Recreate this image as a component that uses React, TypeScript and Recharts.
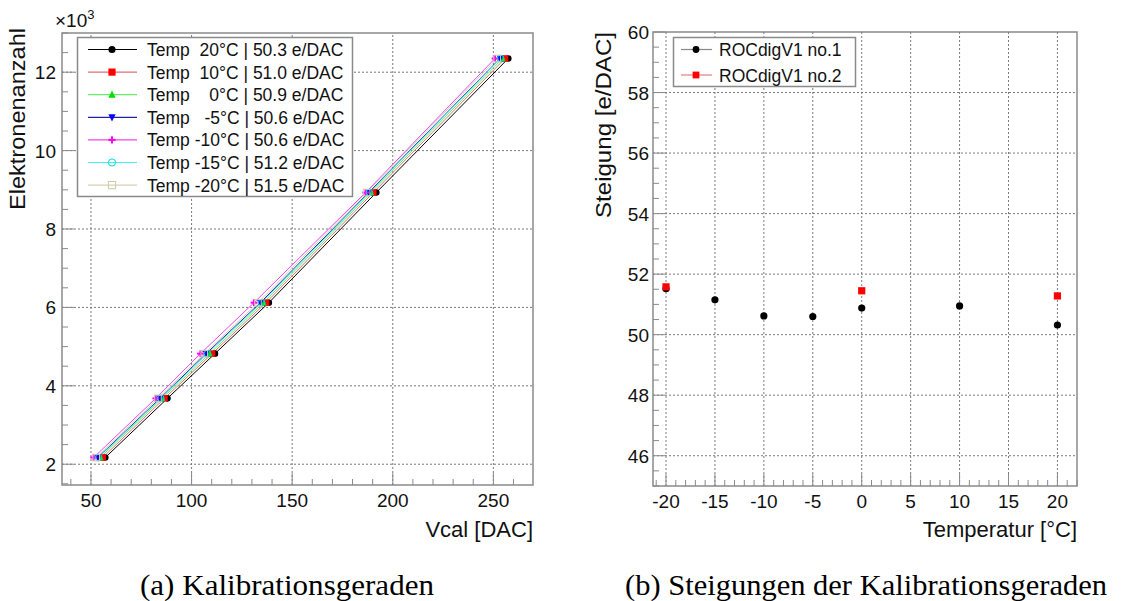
import React from 'react';
import {
  LineChart,
  Line,
  XAxis,
  YAxis,
  ReferenceLine,
  ReferenceArea,
  ScatterChart,
  Scatter,
} from 'recharts';

const SANS = "'Liberation Sans', Arial, sans-serif";
const SERIF = "'Liberation Serif', 'Times New Roman', serif";
const FRAME = '#8a8a8a';
const GRID = '#7a7a7a';

// (a) calibration lines: electrons vs Vcal per temperature
const electrons = [2170, 3680, 4820, 6120, 8930, 12350];
const vcal20 = [57.1, 88.0, 111.6, 138.4, 191.8, 257.4];
const vcal10 = [55.8, 86.5, 110.2, 137.0, 190.3, 255.8];
const vcal0 = [54.6, 85.4, 109.0, 135.8, 189.2, 254.6];
const vcalM5 = [53.4, 84.3, 107.2, 134.2, 188.0, 253.3];
const vcalM10 = [51.3, 82.2, 104.4, 131.0, 186.5, 250.8];
const vcalM15 = [53.8, 84.7, 107.8, 134.8, 188.4, 253.6];
const vcalM20 = [52.6, 83.3, 106.3, 133.0, 187.0, 251.9];

const calibLabels = [
  'Temp  20°C | 50.3 e/DAC',
  'Temp  10°C | 51.0 e/DAC',
  'Temp    0°C | 50.9 e/DAC',
  'Temp   -5°C | 50.6 e/DAC',
  'Temp -10°C | 50.6 e/DAC',
  'Temp -15°C | 51.2 e/DAC',
  'Temp -20°C | 51.5 e/DAC',
];
const calibLineColors = ['#000000', '#e07070', '#66ee66', '#2020a0', '#ee44ee', '#44eeee', '#d4d2b4'];
const calibMarkColors = ['#000000', '#ff0000', '#00dd00', '#0000ff', '#ff00ff', '#00dddd', '#ccc8a8'];
const calibShapes = ['circle', 'square', 'triangle', 'triangleDown', 'plus', 'openCircle', 'openSquare'];
const calibVcal = [vcal20, vcal10, vcal0, vcalM5, vcalM10, vcalM15, vcalM20];

const vcalMajor = [50, 100, 150, 200, 250];
const elecMajor = [2000, 4000, 6000, 8000, 10000, 12000];

// (b) slopes vs temperature
const temps1 = [-20, -15, -10, -5, 0, 10, 20];
const slopes1 = [51.52, 51.15, 50.62, 50.6, 50.88, 50.95, 50.32];
const temps2 = [-20, 0, 20];
const slopes2 = [51.58, 51.45, 51.28];
const rocLabels = ['ROCdigV1 no.1', 'ROCdigV1 no.2'];

const tempMajor = [-20, -15, -10, -5, 0, 5, 10, 15, 20];
const slopeMajor = [46, 48, 50, 52, 54, 56, 58, 60];

const steps = (from: number, to: number, step: number) => {
  const out: number[] = [];
  for (let v = from; v <= to + 1e-9; v += step) out.push(Math.round(v * 100) / 100);
  return out;
};

const vcalTicks = steps(40, 260, 10);
const elecTicks = steps(1500, 13000, 500);
const tempTicks = steps(-21, 22, 1);
const slopeTicks = steps(45, 60, 0.5);

function Marker({ shape, cx, cy, color, r = 3.3 }: any) {
  if (cx == null || cy == null) return null;
  switch (shape) {
    case 'circle':
      return <circle cx={cx} cy={cy} r={r} fill={color} />;
    case 'square':
      return <rect x={cx - r} y={cy - r} width={2 * r} height={2 * r} fill={color} />;
    case 'triangle':
      return <polygon points={`${cx},${cy - r - 0.5} ${cx - r},${cy + r - 0.5} ${cx + r},${cy + r - 0.5}`} fill={color} />;
    case 'triangleDown':
      return <polygon points={`${cx},${cy + r + 0.5} ${cx - r},${cy - r + 0.5} ${cx + r},${cy - r + 0.5}`} fill={color} />;
    case 'plus':
      return (
        <g stroke={color} strokeWidth={2}>
          <line x1={cx - r} x2={cx + r} y1={cy} y2={cy} />
          <line x1={cx} x2={cx} y1={cy - r} y2={cy + r} />
        </g>
      );
    case 'openCircle':
      return <circle cx={cx} cy={cy} r={r} fill="none" stroke={color} strokeWidth={1} />;
    case 'openSquare':
      return <rect x={cx - r} y={cy - r} width={2 * r} height={2 * r} fill="none" stroke={color} strokeWidth={1} />;
    default:
      return null;
  }
}

function BottomTick({ x, y, payload, majors }: any) {
  const v = payload.value;
  const major = majors.includes(v);
  return (
    <g>
      <line x1={x} x2={x} y1={y} y2={y - (major ? 12 : 6)} stroke={FRAME} />
      {major && (
        <text x={x} y={y + 22} textAnchor="middle" fontSize={19} fontFamily={SANS} fill="#111">
          {v}
        </text>
      )}
    </g>
  );
}

function LeftTick({ x, y, payload, majors, scale = 1, gap = 6 }: any) {
  const v = payload.value;
  const major = majors.includes(v);
  return (
    <g>
      <line x1={x} x2={x + (major ? 12 : 6)} y1={y} y2={y} stroke={FRAME} />
      {major && (
        <text x={x - gap} y={y + 7} textAnchor="end" fontSize={19} fontFamily={SANS} fill="#111">
          {v / scale}
        </text>
      )}
    </g>
  );
}

function CalibChart() {
  const series = calibVcal.map((vs, i) => ({
    name: calibLabels[i],
    data: vs.map((v, j) => ({ v, e: electrons[j] })),
  }));
  return (
    <LineChart width={560} height={530} margin={{ top: 33, right: 27, bottom: 0, left: 0 }}>
      <XAxis
        dataKey="v"
        type="number"
        domain={[35.6, 269.7]}
        allowDataOverflow
        ticks={vcalTicks}
        interval={0}
        tickSize={0}
        tickMargin={0}
        axisLine={false}
        tickLine={false}
        height={45}
        tick={(p: any) => <BottomTick {...p} majors={vcalMajor} />}
      />
      <YAxis
        dataKey="e"
        type="number"
        domain={[1470, 13000]}
        allowDataOverflow
        ticks={elecTicks}
        interval={0}
        tickSize={0}
        tickMargin={0}
        axisLine={false}
        tickLine={false}
        width={62}
        tick={(p: any) => <LeftTick {...p} majors={elecMajor} scale={1000} gap={6} />}
      />
      {vcalMajor.map((v) => (
        <ReferenceLine key={`gx${v}`} x={v} stroke={GRID} strokeDasharray="2 2" />
      ))}
      {elecMajor.map((v) => (
        <ReferenceLine key={`gy${v}`} y={v} stroke={GRID} strokeDasharray="2 2" />
      ))}
      <ReferenceArea x1={35.6} x2={269.7} y1={1470} y2={13000} fill="none" fillOpacity={0} stroke={FRAME} strokeWidth={1.5} />
      {series.map((s, i) => (
        <Line
          key={s.name}
          name={s.name}
          data={s.data}
          dataKey="e"
          type="linear"
          stroke={calibLineColors[i]}
          strokeWidth={1}
          isAnimationActive={false}
          dot={(p: any) => (
            <Marker key={`d${i}-${p.index}`} shape={calibShapes[i]} cx={p.cx} cy={p.cy} color={calibMarkColors[i]} />
          )}
          activeDot={false}
        />
      ))}
    </LineChart>
  );
}

function SlopeChart() {
  const d1 = temps1.map((t, i) => ({ t, s: slopes1[i] }));
  const d2 = temps2.map((t, i) => ({ t, s: slopes2[i] }));
  return (
    <ScatterChart width={564} height={530} margin={{ top: 32, right: 47, bottom: 0, left: 0 }}>
      <XAxis
        dataKey="t"
        type="number"
        domain={[-21.33, 22]}
        allowDataOverflow
        ticks={tempTicks}
        interval={0}
        tickSize={0}
        tickMargin={0}
        axisLine={false}
        tickLine={false}
        height={44}
        tick={(p: any) => <BottomTick {...p} majors={tempMajor} />}
      />
      <YAxis
        dataKey="s"
        type="number"
        domain={[45, 60]}
        allowDataOverflow
        ticks={slopeTicks}
        interval={0}
        tickSize={0}
        tickMargin={0}
        axisLine={false}
        tickLine={false}
        width={93}
        tick={(p: any) => <LeftTick {...p} majors={slopeMajor} gap={4} />}
      />
      {tempMajor.map((v) => (
        <ReferenceLine key={`gx${v}`} x={v} stroke={GRID} strokeDasharray="2 2" />
      ))}
      {slopeMajor.filter((v) => v < 60).map((v) => (
        <ReferenceLine key={`gy${v}`} y={v} stroke={GRID} strokeDasharray="2 2" />
      ))}
      <ReferenceArea x1={-21.33} x2={22} y1={45} y2={60} fill="none" fillOpacity={0} stroke={FRAME} strokeWidth={1.5} />
      <Scatter
        name={rocLabels[0]}
        data={d1}
        isAnimationActive={false}
        shape={(p: any) => <Marker shape="circle" cx={p.cx} cy={p.cy} color="#000" r={3.6} />}
      />
      <Scatter
        name={rocLabels[1]}
        data={d2}
        isAnimationActive={false}
        shape={(p: any) => <Marker shape="square" cx={p.cx} cy={p.cy} color="#ff0000" r={3.6} />}
      />
    </ScatterChart>
  );
}

function Overlay() {
  return (
    <svg width={1124} height={601} style={{ position: 'absolute', left: 0, top: 0, pointerEvents: 'none' }}>
      {/* (a) legend */}
      <rect x={77.5} y={37.5} width={275} height={159} fill="#fff" stroke={FRAME} strokeWidth={1.5} />
      {calibLabels.map((lab, i) => {
        const y = 49.5 + i * 22.6;
        return (
          <g key={lab}>
            <line x1={88} x2={137} y1={y} y2={y} stroke={calibLineColors[i]} strokeWidth={1.2} />
            <Marker shape={calibShapes[i]} cx={112} cy={y} color={calibMarkColors[i]} r={3.6} />
            <text x={147} y={y + 6.5} fontSize={17.5} fontFamily={SANS} fill="#111" style={{ whiteSpace: 'pre' }} xmlSpace="preserve">
              {lab}
            </text>
          </g>
        );
      })}
      <text x={55} y={27} fontSize={19} fontFamily={SANS} fill="#111">
        ×10<tspan dy={-8} fontSize={13}>3</tspan>
      </text>
      <text
        x={25}
        y={28}
        transform="rotate(-90 25 28)"
        textAnchor="end"
        fontSize={22}
        fontFamily={SANS}
        fill="#111"
        textLength={182}
        lengthAdjust="spacingAndGlyphs"
      >
        Elektronenanzahl
      </text>
      <text x={533} y={537} textAnchor="end" fontSize={22} fontFamily={SANS} fill="#111">
        Vcal [DAC]
      </text>

      {/* (b) legend */}
      <rect x={673.5} y={37.5} width={182} height={49} fill="#fff" stroke={FRAME} strokeWidth={1.5} />
      {rocLabels.map((lab, i) => {
        const y = 49.5 + i * 25.5;
        return (
          <g key={lab}>
            <line x1={681} x2={712} y1={y} y2={y} stroke={i === 0 ? '#888' : '#e08080'} strokeWidth={1.2} />
            <Marker shape={i === 0 ? 'circle' : 'square'} cx={696} cy={y} color={i === 0 ? '#000' : '#ff0000'} r={3.4} />
            <text x={719} y={y + 6.5} fontSize={17.5} fontFamily={SANS} fill="#111">
              {lab}
            </text>
          </g>
        );
      })}
      <text
        x={611}
        y={32}
        transform="rotate(-90 611 32)"
        textAnchor="end"
        fontSize={22}
        fontFamily={SANS}
        fill="#111"
        textLength={186}
        lengthAdjust="spacingAndGlyphs"
      >
        Steigung [e/DAC]
      </text>
      <text x={1077} y={537} textAnchor="end" fontSize={22} fontFamily={SANS} fill="#111">
        Temperatur [°C]
      </text>

      {/* captions */}
      <text x={287} y={595} textAnchor="middle" fontSize={29} fontFamily={SERIF} fill="#000" textLength={294} lengthAdjust="spacingAndGlyphs">
        (a) Kalibrationsgeraden
      </text>
      <text x={866} y={595} textAnchor="middle" fontSize={29} fontFamily={SERIF} fill="#000" textLength={482} lengthAdjust="spacingAndGlyphs">
        (b) Steigungen der Kalibrationsgeraden
      </text>
    </svg>
  );
}

export default function App() {
  return (
    <div style={{ position: 'absolute', left: 0, top: 0, width: 1124, height: 601, background: '#fff' }}>
      <div style={{ position: 'absolute', left: 0, top: 0 }}>
        <CalibChart />
      </div>
      <div style={{ position: 'absolute', left: 560, top: 0 }}>
        <SlopeChart />
      </div>
      <Overlay />
    </div>
  );
}
